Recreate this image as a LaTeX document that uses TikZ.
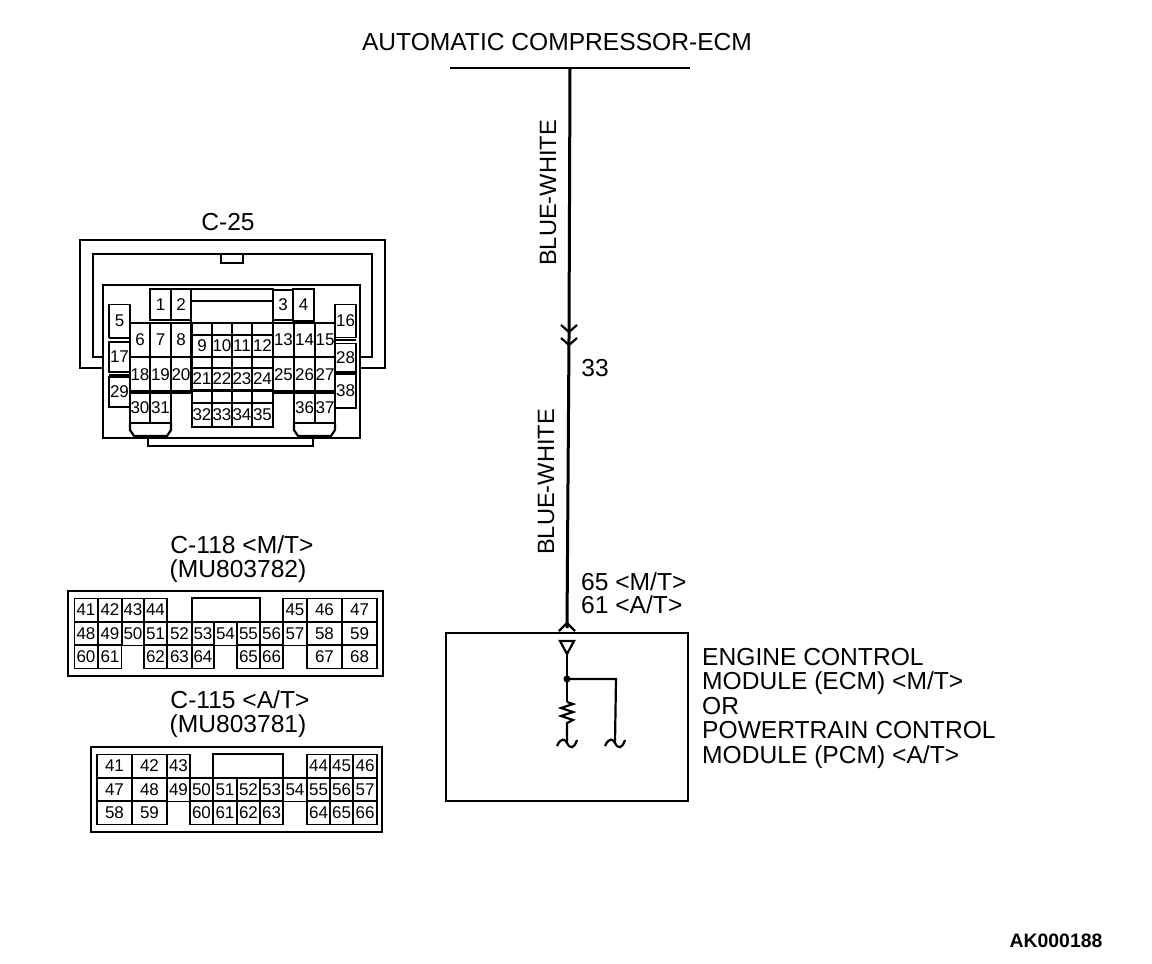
\documentclass[tikz,border=0pt]{standalone}
\usepackage{fontspec}
\setmainfont{Liberation Sans}
\usetikzlibrary{calc}

\tikzset{
  label text/.style={font=\fontsize{24.6}{24.5}\selectfont, inner sep=0pt},
  pin/.style 2 args={draw, line width=1.5pt, inner sep=0pt, font=\fontsize{17}{18}\selectfont, minimum width=#1, minimum height=#2},
  wire/.style={line width=3pt},
  thin wire/.style={line width=2.2pt},
  shell/.style={line width=2.2pt}
}

\begin{document}
\begin{tikzpicture}[x=1pt,y=-1pt]
\useasboundingbox (0,0) rectangle (1152,964);

\node[label text] (title) at (557,42) {AUTOMATIC COMPRESSOR-ECM};
\node[label text] (c25) at (228,222) {C-25};
\node[label text] (c118) at (242,545) {C-118 <M/T>};
\node[label text] (c118part) at (238,571.5) {(MU803782)};
\node[label text] (c115) at (240,700) {C-115 <A/T>};
\node[label text] (c115part) at (238,726.5) {(MU803781)};
\node[label text, rotate=90, font=\fontsize{23.6}{24}\selectfont] (colourA) at (548,193) {BLUE-WHITE};
\node[label text, rotate=90, font=\fontsize{23.6}{24}\selectfont] (colourB) at (546,482) {BLUE-WHITE};
\node[label text] (n33) at (595,368) {33};
\node[label text, anchor=west] (n65) at (581,582) {65 <M/T>};
\node[label text, anchor=west] (n61) at (581,605) {61 <A/T>};
\node[label text, anchor=north west, align=left] (ecm) at (702,648) {ENGINE CONTROL\\MODULE (ECM) <M/T>\\OR\\POWERTRAIN CONTROL\\MODULE (PCM) <A/T>};
\node[font=\bfseries\fontsize{19.4}{20}\selectfont, inner sep=0pt] (code) at (1056,941) {AK000188};

% wiring
\coordinate (busL) at (450,68);
\coordinate (busR) at (690,68);
\coordinate (busT) at (570,68);
\coordinate (joint) at (569,338);
\coordinate (entry) at (567,628);
\coordinate (tipT) at (567,641);
\coordinate (tipB) at (567,654);
\coordinate (dot) at (567,679);
\coordinate (corner) at (616,679);
\coordinate (resT) at (567,702);
\coordinate (resB) at (567,725);
\coordinate (endA) at (567,743);
\coordinate (endB) at (615,743);

\draw[thin wire] (busL) -- (busR);
\draw[wire] (busT) -- (joint) -- (entry);
\draw[thin wire] (joint) ++(-8,-13) -- ++(8,7) -- ++(8,-7);
\draw[thin wire] (joint) ++(-8,0) -- ++(8,7) -- ++(8,-7);
\draw[thin wire] (entry) ++(-8,3) -- ++(8,-8) -- ++(8,8);

\draw[line width=1.8pt] (446,633) rectangle (688,801);

\draw[thin wire] (tipT) ++(-7,0) -- ++(14,0) -- (tipB) -- cycle;
\draw[thin wire] (tipB) -- (dot) -- (resT);
\draw[thin wire] (dot) -- (corner) -- (endB);
\fill (dot) circle (3.5);
\draw[thin wire] (resT) -- ++(6,2) -- ++(-12,4) -- ++(12,4) -- ++(-12,4) -- ++(12,4) -- ++(-6,3) -- (resB) -- (endA);
\foreach \e in {endA,endB}
  \draw[thin wire] ($(\e)+(-10,3)$) .. controls ($(\e)+(-6,-6)$) and ($(\e)+(-2,-4)$) .. (\e) .. controls ($(\e)+(3,6)$) and ($(\e)+(7,6)$) .. ($(\e)+(10,-3)$);

% C-25 shell
\draw[shell] (103,368) -- (80,368) -- (80,240) -- (385,240) -- (385,368) -- (360,368);
\draw[shell] (103,357) -- (93,357) -- (93,254) -- (372,254) -- (372,357) -- (360,357);
\draw[shell] (221,255) -- (221,263) -- (243,263) -- (243,255);
\draw[shell] (103,285) rectangle (360,438);
\draw[shell] (148,438) -- (148,446) -- (313,446) -- (313,438);
\draw[line width=1.5pt] (191,289) rectangle (273,323);
\draw[line width=1.5pt] (191,301) -- (273,301);
\foreach \x in {192,212,232,252,273}
  \draw[line width=1.5pt] (\x,323) -- (\x,335) (\x,357) -- (\x,368) (\x,390) -- (\x,403);

\foreach \n/\x/\y/\w/\h in {1/160.5/304.5/21/31, 2/181/304.5/20/31, 3/283/305/20/30, 4/303.5/305/21/32,
  5/119.5/321/21/33, 17/119.5/357/21/30, 29/119.5/392/21/30,
  16/345.5/321/21/33, 28/345.5/358/21/29, 38/345.5/391/21/34,
  6/140/340/20/34, 7/160.5/340/21/34, 8/181/340/20/34,
  9/202/346/20/22, 10/222/346/20/22, 11/242/346/20/22, 12/262.5/346/21/22,
  13/283.5/340/21/34, 14/304.5/340/21/34, 15/325/340/20/34,
  18/140/375/20/36, 19/160.5/375/21/36, 20/181/375/20/36,
  21/202/379/20/22, 22/222/379/20/22, 23/242/379/20/22, 24/262.5/379/21/22,
  25/283.5/375/21/36, 26/304.5/375/21/36, 27/325/375/20/36,
  30/140/408/20/30, 31/160.5/408/21/30, 36/304.5/408/21/30, 37/325/408/20/30,
  32/202/415/20/24, 33/222/415/20/24, 34/242/415/20/24, 35/262.5/415/21/24}
  \node[pin={\w}{\h}] (a\n) at (\x,\y) {\n};

\draw[line width=2.5pt] (109,338) -- (130,338) (109,375) -- (130,375) (335,340) -- (356,340) (335,372) -- (356,372);
\draw[line width=2.5pt] (130,391) -- (335,391);
\draw[line width=2.5pt] (192,427) -- (273,427);
\draw[shell] (130,423) -- (130,430) -- (134,436) -- (167,436) -- (171,430) -- (171,423);
\draw[shell] (294,423) -- (294,430) -- (298,436) -- (331,436) -- (335,430) -- (335,423);

% C-118
\draw[line width=2.6pt] (68,591) rectangle (383,676);
\draw[line width=1.5pt] (192,598) rectangle (260,622);
\foreach \n/\x/\y/\w in {41/86/610/23, 42/110/610/23, 43/133/610/22, 44/155.5/610/23, 45/295/610/24, 46/324.5/610/35, 47/359.5/610/35,
  48/86/633.5/23, 49/110/633.5/23, 50/133/633.5/22, 51/155.5/633.5/23, 52/179.5/633.5/25, 53/203/633.5/22, 54/225.5/633.5/23, 55/248.5/633.5/23, 56/271.5/633.5/23, 57/295/633.5/24, 58/324.5/633.5/35, 59/359.5/633.5/35,
  60/86/656.5/23, 61/110/656.5/23, 62/155.5/656.5/23, 63/179.5/656.5/25, 64/203/656.5/22, 65/248.5/656.5/23, 66/271.5/656.5/23, 67/324.5/656.5/35, 68/359.5/656.5/35}
  \node[pin={\w}{23.5}] (b\n) at (\x,\y) {\n};

% C-115
\draw[line width=2.6pt] (91,747) rectangle (382,832);
\draw[line width=1.5pt] (213,754) rectangle (283,778);
\foreach \n/\x/\y/\w in {41/114.5/766/35, 42/149.5/766/35, 43/178.5/766/23, 44/318.5/766/23, 45/341.5/766/23, 46/365/766/24,
  47/114.5/789.5/35, 48/149.5/789.5/35, 49/178.5/789.5/23, 50/201.5/789.5/23, 51/225/789.5/24, 52/248.5/789.5/23, 53/271.5/789.5/23, 54/295/789.5/24, 55/318.5/789.5/23, 56/341.5/789.5/23, 57/365/789.5/24,
  58/114.5/812.5/35, 59/149.5/812.5/35, 60/201.5/812.5/23, 61/225/812.5/24, 62/248.5/812.5/23, 63/271.5/812.5/23, 64/318.5/812.5/23, 65/341.5/812.5/23, 66/365/812.5/24}
  \node[pin={\w}{23.5}] (d\n) at (\x,\y) {\n};

\end{tikzpicture}
\end{document}
